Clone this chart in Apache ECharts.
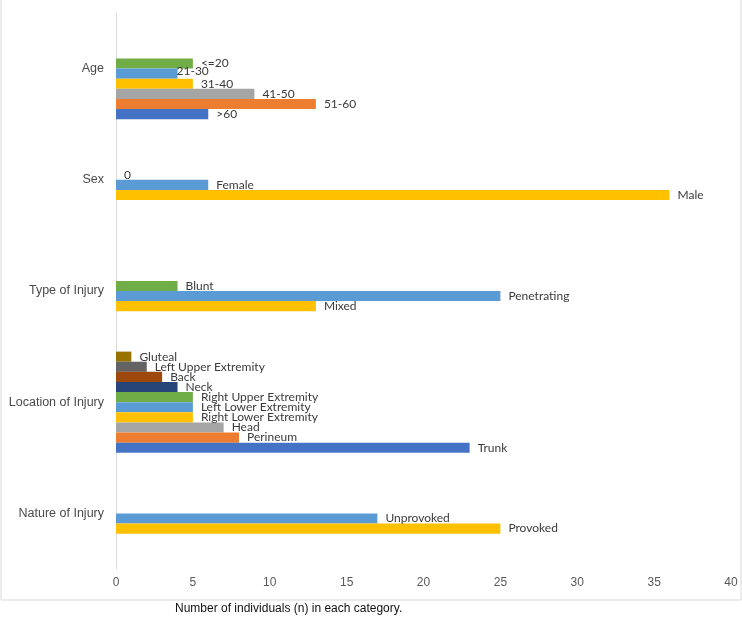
<!DOCTYPE html>
<html><head><meta charset="utf-8">
<script src="https://cdn.jsdelivr.net/npm/echarts@6/dist/echarts.min.js"></script>
<style>html,body{margin:0;padding:0;background:#fff}#c{width:742px;height:624px}</style>
</head><body><div id="c"></div>
<script>
// Categories (top to bottom)
const categories = ['Age', 'Sex', 'Type of Injury', 'Location of Injury', 'Nature of Injury'];
// Each group: labels/values listed from the bottom bar upward
const ageLabels = ['>60', '51-60', '41-50', '31-40', '21-30', '<=20'];
const ageValues = [6, 13, 9, 5, 4, 5];
const sexLabels = ['Male', 'Female', '0'];
const sexValues = [36, 6, 0];
const typeLabels = ['Mixed', 'Penetrating', 'Blunt'];
const typeValues = [13, 25, 4];
const locationLabels = ['Trunk', 'Perineum', 'Head', 'Right Lower Extremity', 'Left Lower Extremity', 'Right Upper Extremity', 'Neck', 'Back', 'Left Upper Extremity', 'Gluteal'];
const locationValues = [23, 8, 7, 5, 5, 5, 4, 3, 2, 1];
const natureLabels = ['Provoked', 'Unprovoked'];
const natureValues = [25, 17];
// first slot (counted from bottom, 1-based) used by each group
const groupStartSlot = [1, 4, 4, 1, 4];
const xTicks = [0, 5, 10, 15, 20, 25, 30, 35, 40];

const slotColors = ['#4472C4', '#ED7D31', '#A5A5A5', '#FFC000', '#5B9BD5', '#70AD47', '#264478', '#9E480E', '#636363', '#997300'];
const groups = [
  [ageLabels, ageValues], [sexLabels, sexValues], [typeLabels, typeValues],
  [locationLabels, locationValues], [natureLabels, natureValues]
];
const NSLOTS = 10;

const series = [];
// series 0 is drawn at the top of each band, so push highest slot first
for (let s = NSLOTS; s >= 1; s--) {
  const data = categories.map((c, ci) => {
    const [labs, vals] = groups[ci];
    const idx = s - groupStartSlot[ci];
    if (idx < 0 || idx >= vals.length) return '-';
    const item = { value: vals[idx], labelText: labs[idx] };
    if (labs[idx] === '21-30') item.label = { offset: [-9, -3] };
    return item;
  });
  series.push({
    type: 'bar',
    name: 'slot' + s,
    data: data,
    barGap: '0%',
    barCategoryGap: '9%',
    itemStyle: { color: slotColors[s - 1] },
    label: {
      show: true,
      position: 'right',
      distance: 8,
      color: '#3a3a3a',
      fontSize: 12,
      fontFamily: 'Lato',
      formatter: p => (p.data && p.data.labelText !== undefined) ? p.data.labelText : ''
    }
  });
}

const chart = echarts.init(document.getElementById('c'));
chart.setOption({
  animation: false,
  backgroundColor: '#fff',
  title: {
    text: 'Number of individuals (n) in each category.',
    left: 175, top: 603, padding: 0,
    textStyle: { fontSize: 12, fontWeight: 'normal', color: '#111', fontFamily: 'Liberation Sans' }
  },
  graphic: [{
    type: 'rect', silent: true, z: -1,
    shape: { x: 1, y: -2, width: 740, height: 602 },
    style: { fill: 'none', stroke: '#d9d9d9', lineWidth: 1 }
  }],
  grid: { left: 116, right: 11, top: 13, bottom: 55, containLabel: false },
  xAxis: {
    type: 'value', min: xTicks[0], max: xTicks[xTicks.length - 1], interval: 5,
    splitLine: { show: false },
    axisLine: { show: false }, axisTick: { show: false },
    axisLabel: { color: '#595959', fontSize: 12, fontFamily: 'Liberation Sans', margin: 8 }
  },
  yAxis: {
    type: 'category', inverse: true, data: categories,
    axisTick: { show: false },
    axisLine: { show: true, lineStyle: { color: '#d9d9d9', width: 1 } },
    axisLabel: { color: '#4a4a4a', fontSize: 12.5, fontFamily: 'Liberation Sans', margin: 12 }
  },
  series: series
});
</script>
</body></html>
